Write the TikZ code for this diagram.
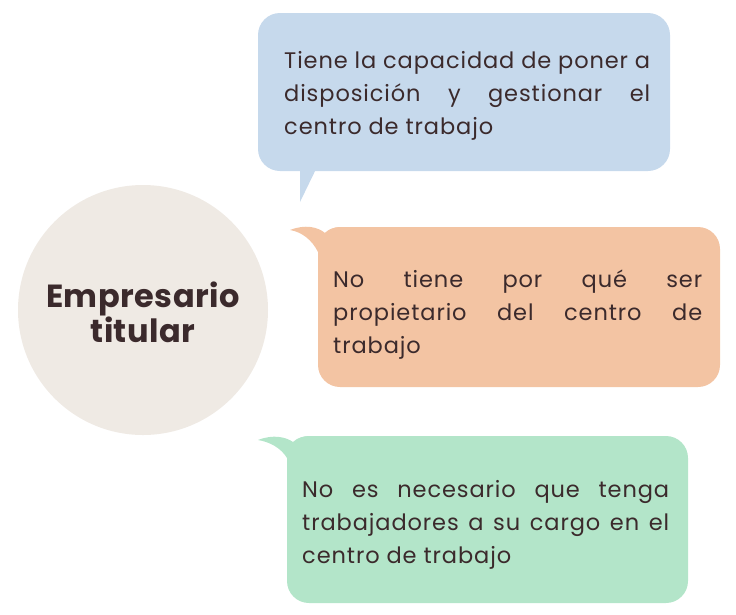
\documentclass[tikz,border=0pt]{standalone}
\usepackage{fontspec}
\setmainfont{Poppins}
\newfontfamily\bodyfont[LetterSpace=4]{Poppins}
\newfontfamily\titlefont[LetterSpace=1.5]{Poppins}
\newcommand\nohyph{\hyphenpenalty=10000 \exhyphenpenalty=10000 \relax}
\definecolor{circ}{HTML}{EFEAE4}
\definecolor{bluebox}{HTML}{C6D9EC}
\definecolor{orbox}{HTML}{F3C4A3}
\definecolor{grbox}{HTML}{B3E5C9}
\definecolor{ink}{HTML}{3B2A2C}
\begin{document}
\begin{tikzpicture}[x=1pt,y=-1pt,
  bubble/.style={rounded corners=22pt},
  bodytext/.style={anchor=base west,inner sep=0pt,align=justify,text=ink,
    font=\bodyfont\fontsize{22.5}{33}\selectfont}]
\useasboundingbox (0,0) rectangle (736,614);
% circle
\fill[circ] (143,310) circle (125);
\node[align=center,text=ink,font=\titlefont\fontsize{32}{32}\selectfont\bfseries] (emp) at (143,312) {Empresario\\titular};
% blue bubble
\fill[bluebox] (300,165) -- (300,202) -- (318,165) -- cycle;
\fill[bluebox,bubble] (258,13) rectangle (670,171);
\node[bodytext,text width=366pt] (t1) at (284,68) {\nohyph Tiene la capacidad de poner a\linebreak disposición y gestionar el\linebreak centro de trabajo};
% orange bubble
\fill[orbox] (290,230) .. controls (305,224) and (318,227) .. (325,233)
  .. controls (330,228) and (336,227) .. (345,227) -- (345,265) -- (318,265) -- (318,252)
  .. controls (312,240) and (302,232) .. (290,230) -- cycle;
\fill[orbox,bubble] (318,227) rectangle (720,387);
\node[bodytext,text width=369pt] (t2) at (333,287) {\nohyph No tiene por qué ser\linebreak propietario del centro de\linebreak trabajo};
% green bubble
\fill[grbox] (258,440) .. controls (273,434) and (286,437) .. (293,442)
  .. controls (298,437) and (304,436) .. (314,436) -- (314,475) -- (287,475) -- (287,458)
  .. controls (281,448) and (270,442) .. (258,440) -- cycle;
\fill[grbox,bubble] (287,436) rectangle (688,603);
\node[bodytext,text width=367pt] (t3) at (302,497) {\nohyph No es necesario que tenga\linebreak trabajadores a su cargo en el\linebreak centro de trabajo};
\end{tikzpicture}
\end{document}
